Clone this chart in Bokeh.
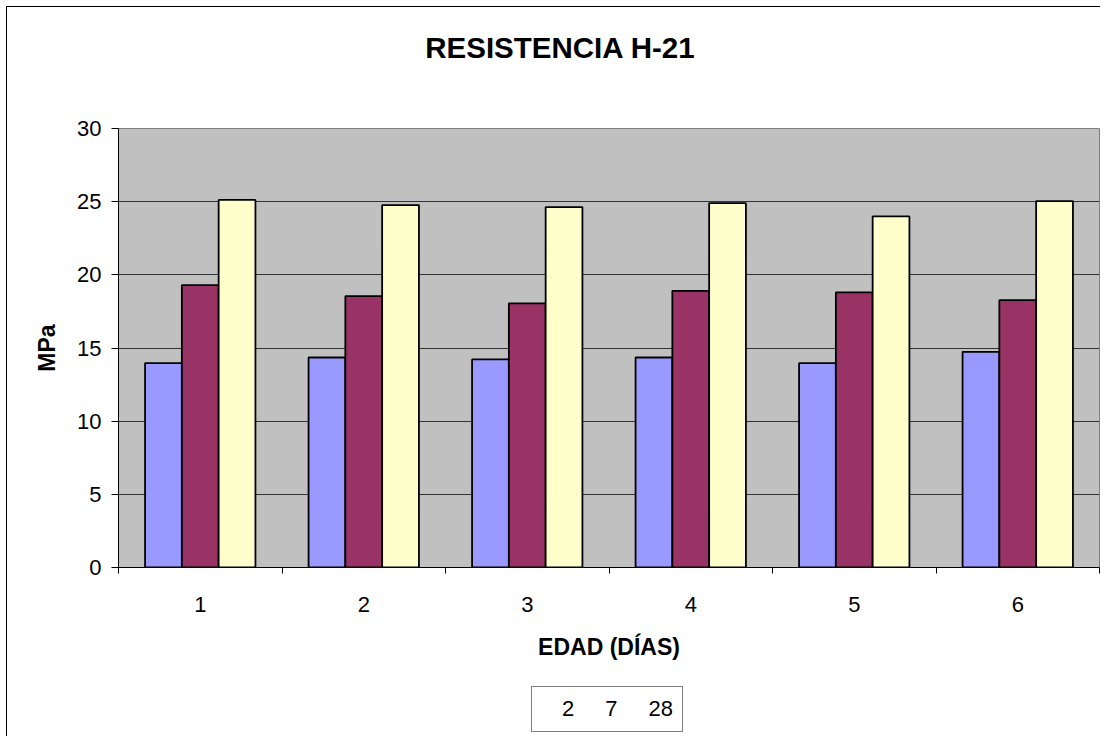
from bokeh.plotting import figure
from bokeh.models import (ColumnDataSource, FixedTicker, Range1d, Legend, LegendItem, Label,
                          CDSView, IndexFilter)
from bokeh.layouts import column
from bokeh.transform import dodge
from bokeh.embed import file_html
from bokeh.resources import INLINE

categories = ["1", "2", "3", "4", "5", "6"]
series_names = ["2", "7", "28"]
edad_2 = [13.97, 14.35, 14.22, 14.35, 13.97, 14.74]
edad_7 = [19.30, 18.55, 18.05, 18.91, 18.80, 18.27]
edad_28 = [25.12, 24.77, 24.63, 24.90, 23.99, 25.04]
y_ticks = [0, 5, 10, 15, 20, 25, 30]
colors = ["#9999FF", "#993366", "#FFFFCC"]
chart_title = "RESISTENCIA H-21"

FONT = "Liberation Sans"
W = 1100
LEFT_LINE = "linear-gradient(#000, #000) 6px 0px / 1px 100% no-repeat"
TOP_LINE = "linear-gradient(#000, #000) 6px 6px / 100% 1px no-repeat"

xpos = [i + 1 for i in range(len(categories))]
source = ColumnDataSource(dict(x=xpos, s2=edad_2, s7=edad_7, s28=edad_28))
series_cols = ["s2", "s7", "s28"]
bw = 0.225


def bare_figure(height, y_range=(0, 1)):
    f = figure(width=W, height=height, output_backend="svg", toolbar_location=None,
               x_range=Range1d(0.5, len(categories) + 0.5), y_range=Range1d(*y_range),
               x_axis_location=None, y_axis_location=None, min_border=0)
    f.grid.visible = False
    f.outline_line_color = None
    f.background_fill_alpha = 0
    f.border_fill_alpha = 0
    return f


# ---- title strip (frames of the column are aligned: screen x is from the frame's left)
ft = bare_figure(100)
ft.styles = {"background": "linear-gradient(#000, #000) 6px 6px / 1px 100% no-repeat, "
                           + TOP_LINE + ", #ffffff"}
ft.add_layout(Label(x=442, y=53, x_units="screen", y_units="screen", text=chart_title,
                    text_font=FONT, text_font_size="29.5px", text_font_style="bold",
                    text_color="black", text_align="center", text_baseline="middle"))

# ---- main chart
p = figure(width=W, height=586, output_backend="svg", toolbar_location=None,
           x_range=Range1d(0.5, len(categories) + 0.5), y_range=Range1d(0, 30),
           min_border_left=118, min_border_right=1, min_border_top=28,
           min_border_bottom=119)
p.background_fill_color = "#C0C0C0"
p.border_fill_alpha = 0
p.styles = {"background": LEFT_LINE + ", #ffffff"}
p.outline_line_color = "#808080"
p.outline_line_width = 1

for i, (col, c) in enumerate(zip(series_cols, colors)):
    p.vbar(x=dodge("x", (i - 1) * bw, range=p.x_range), top=col, width=bw,
           source=source, fill_color=c, line_color="black", line_width=1.8)

p.xgrid.visible = False
p.ygrid.ticker = FixedTicker(ticks=y_ticks)
p.ygrid.grid_line_color = "#333333"
p.ygrid.grid_line_width = 1

p.yaxis.ticker = FixedTicker(ticks=y_ticks)
p.yaxis.axis_label = "MPa"
p.yaxis.axis_label_text_font = FONT
p.yaxis.axis_label_text_font_size = "23px"
p.yaxis.axis_label_text_font_style = "bold"
p.yaxis.axis_label_text_color = "black"
p.yaxis.axis_label_standoff = 14
p.yaxis.major_label_text_font = FONT
p.yaxis.major_label_text_font_size = "22px"
p.yaxis.major_label_text_color = "black"
p.yaxis.major_label_standoff = 10
p.yaxis.major_tick_out = 7
p.yaxis.major_tick_in = 0
p.yaxis.minor_tick_line_color = None
p.yaxis.axis_line_color = "black"
p.yaxis.major_tick_line_color = "black"

bounds = [i + 0.5 for i in range(len(categories) + 1)]
p.xaxis.ticker = FixedTicker(ticks=xpos, minor_ticks=bounds)
p.xaxis.major_label_overrides = {x: c for x, c in zip(xpos, categories)}
p.xaxis.major_tick_line_color = None
p.xaxis.major_tick_out = 0
p.xaxis.major_tick_in = 0
p.xaxis.minor_tick_line_color = "black"
p.xaxis.minor_tick_out = 6
p.xaxis.minor_tick_in = 0
p.xaxis.axis_line_color = "black"
p.xaxis.major_label_standoff = 23
p.xaxis.major_label_text_font = FONT
p.xaxis.major_label_text_font_size = "22px"
p.xaxis.major_label_text_color = "black"
p.xaxis.axis_label = "EDAD (DÍAS)"
p.xaxis.axis_label_text_font = FONT
p.xaxis.axis_label_text_font_size = "23px"
p.xaxis.axis_label_text_font_style = "bold"
p.xaxis.axis_label_text_color = "black"
p.xaxis.axis_label_standoff = 19

# ---- legend strip: the same series with an empty view, used only for the swatches
fl = bare_figure(50, y_range=(100, 101))
fl.styles = {"background": LEFT_LINE + ", #ffffff"}
proxies = [fl.vbar(x=dodge("x", (i - 1) * bw, range=fl.x_range), top=col, width=bw,
                   source=source, view=CDSView(filter=IndexFilter(indices=[])),
                   fill_color=c, line_color="black", line_width=1.5)
           for i, (col, c) in enumerate(zip(series_cols, colors))]
legend = Legend(items=[LegendItem(label=n, renderers=[r]) for n, r in zip(series_names, proxies)],
                orientation="horizontal", location=(413, 4),
                label_text_font=FONT, label_text_font_size="22px", label_text_color="black",
                glyph_width=12, glyph_height=12, label_standoff=9, spacing=10,
                label_width=0, padding=9, margin=0,
                border_line_color="black", border_line_width=1,
                background_fill_color="white", background_fill_alpha=1)
fl.add_layout(legend)

layout = column(ft, p, fl, spacing=0)
open("out.html", "w").write(file_html(layout, INLINE))
